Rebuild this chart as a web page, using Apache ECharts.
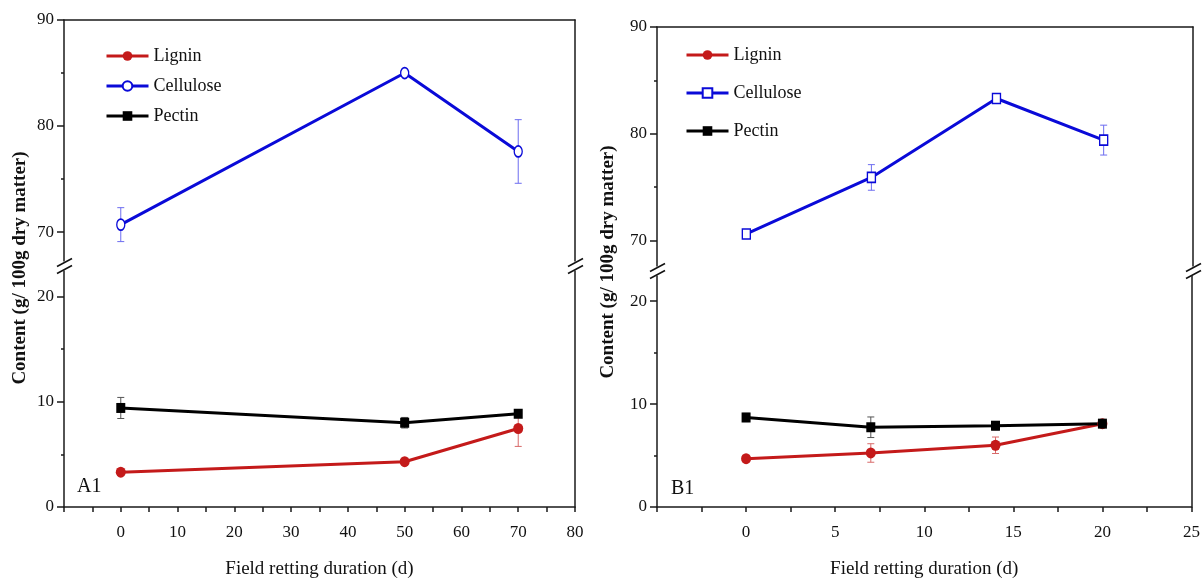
<!DOCTYPE html>
<html>
<head>
<meta charset="utf-8">
<script src="https://cdn.jsdelivr.net/npm/echarts@6/dist/echarts.min.js"></script>
<style>
  html, body { margin: 0; padding: 0; background: #fff; }
  #chart { width: 1203px; height: 580px; }
</style>
</head>
<body>
<div id="chart"></div>
<script>
// panel A1
var daysA = [0, 50, 70];
var ligninA = [3.3, 4.3, 7.45];
var ligninErrA = [0.3, 0.2, 1.7];
var celluloseA = [70.7, 85.0, 77.6];
var celluloseErrA = [1.6, 0.3, 3.0];
var pectinA = [9.4, 8.0, 8.85];
var pectinErrA = [1.0, 0.5, 0.3];

// panel B1
var daysB = [0, 7, 14, 20];
var ligninB = [4.7, 5.25, 6.0, 8.1];
var ligninErrB = [0.3, 0.9, 0.8, 0.2];
var celluloseB = [70.6, 75.9, 83.3, 79.4];
var celluloseErrB = [0.3, 1.2, 0.4, 1.4];
var pectinB = [8.7, 7.75, 7.9, 8.1];
var pectinErrB = [0.4, 1.0, 0.4, 0.3];

// tick labels
var upperMajor = [70, 80, 90];
var upperMinor = [75, 85];
var lowerMajor = [0, 10, 20];
var lowerMinor = [5, 15];

var FONT = 'Liberation Serif';
var AXIS = '#1a1a1a';
var BLUE = '#0a0ad8';
var RED = '#c41a1a';
var BLACK = '#000';

var chart = echarts.init(document.getElementById('chart'));

function pairs(xs, ys) {
  return xs.map(function (x, i) { return [x, ys[i]]; });
}
function triples(xs, ys, es) {
  return xs.map(function (x, i) { return [x, ys[i], es[i]]; });
}

// y axes for one grid: labelled left axis, minor-tick axis, plain right line
function yAxesFor(grid, min, max, major, minor) {
  return [{
    type: 'value', gridIndex: grid, min: min, max: max, position: 'left',
    axisLine: { show: true, onZero: false, lineStyle: { color: AXIS, width: 1.5 } },
    axisTick: { show: true, length: 7, customValues: major, lineStyle: { color: AXIS, width: 1.5 } },
    axisLabel: { customValues: major, margin: 10, color: '#111', fontFamily: FONT, fontSize: 17 },
    splitLine: { show: false }
  }, {
    type: 'value', gridIndex: grid, min: min, max: max, position: 'left',
    axisLine: { show: false, onZero: false },
    axisTick: { show: true, length: 3, customValues: minor, lineStyle: { color: AXIS, width: 1.5 } },
    axisLabel: { show: false },
    splitLine: { show: false }
  }, {
    type: 'value', gridIndex: grid, min: min, max: max, position: 'right',
    axisLine: { show: true, onZero: false, lineStyle: { color: AXIS, width: 1.5 } },
    axisTick: { show: false }, axisLabel: { show: false },
    splitLine: { show: false }
  }];
}

function topAxis(grid, min, max) {
  return {
    type: 'value', gridIndex: grid, min: min, max: max, position: 'top',
    axisLine: { show: true, onZero: false, lineStyle: { color: AXIS, width: 1.5 } },
    axisTick: { show: false }, axisLabel: { show: false }, splitLine: { show: false }
  };
}

function bottomAxis(grid, min, max, step, labelStep) {
  return {
    type: 'value', gridIndex: grid, min: min, max: max, interval: step, position: 'bottom',
    name: 'Field retting duration (d)', nameLocation: 'middle', nameGap: 53,
    nameTextStyle: { color: '#111', fontFamily: FONT, fontSize: 19 },
    axisLine: { show: true, onZero: false, lineStyle: { color: AXIS, width: 1.5 } },
    axisTick: { show: true, length: 5, lineStyle: { color: AXIS, width: 1.5 } },
    axisLabel: {
      interval: 0, margin: 17, color: '#111', fontFamily: FONT, fontSize: 17,
      formatter: function (v) { return (v >= 0 && Math.abs(v % labelStep) < 1e-6) ? String(v) : ''; }
    },
    splitLine: { show: false }
  };
}

function errorSeries(name, xi, yi, data, color) {
  return {
    name: name, type: 'custom', xAxisIndex: xi, yAxisIndex: yi, z: 1,
    encode: { x: 0, y: 1 },
    data: data,
    renderItem: function (params, api) {
      var x = api.value(0), y = api.value(1), e = api.value(2);
      var hi = api.coord([x, y + e]);
      var lo = api.coord([x, y - e]);
      var w = 3.5;
      var st = { stroke: color, lineWidth: 1 };
      return {
        type: 'group',
        children: [
          { type: 'line', shape: { x1: hi[0], y1: hi[1], x2: lo[0], y2: lo[1] }, style: st },
          { type: 'line', shape: { x1: hi[0] - w, y1: hi[1], x2: hi[0] + w, y2: hi[1] }, style: st },
          { type: 'line', shape: { x1: lo[0] - w, y1: lo[1], x2: lo[0] + w, y2: lo[1] }, style: st }
        ]
      };
    }
  };
}

function lineSeries(name, xi, yi, data, color, symbol, size, hollow) {
  return {
    name: name, type: 'line', xAxisIndex: xi, yAxisIndex: yi, z: 3,
    data: data,
    symbol: symbol, symbolSize: size, showAllSymbol: true,
    lineStyle: { color: color, width: 3 },
    itemStyle: hollow ? { color: '#fff', borderColor: color, borderWidth: 1.5 } : { color: color, borderWidth: 0 }
  };
}

function breakMark(x, y) {
  var st = { stroke: '#111', lineWidth: 1.5 };
  return {
    type: 'group',
    children: [
      { type: 'rect', shape: { x: x - 3, y: y - 3, width: 6, height: 6 }, style: { fill: '#fff' } },
      { type: 'line', shape: { x1: x - 7, y1: y - 3.5 + 4, x2: x + 8, y2: y - 3.5 - 4 }, style: st },
      { type: 'line', shape: { x1: x - 7, y1: y + 3.5 + 4, x2: x + 8, y2: y + 3.5 - 4 }, style: st }
    ]
  };
}

var legendBase = {
  orient: 'vertical', itemWidth: 42, itemHeight: 12, padding: 0,
  lineStyle: { width: 3 },
  textStyle: { color: '#111', fontFamily: FONT, fontSize: 18 },
  formatter: function (name) { return name.split(' ')[0]; }
};

chart.setOption({
  animation: false,
  backgroundColor: '#fff',
  grid: [
    { left: 64, width: 511, top: 20, height: 241 },
    { left: 64, width: 511, top: 271, height: 241 },
    { left: 657, width: 536, top: 27, height: 239 },
    { left: 657, width: 536, top: 276, height: 238 }
  ],
  legend: [
    Object.assign({}, legendBase, { left: 105, top: 47, itemGap: 12, data: ['Lignin', 'Cellulose', 'Pectin'] }),
    Object.assign({}, legendBase, { left: 685, top: 46, itemGap: 20, data: ['Lignin B1', 'Cellulose B1', 'Pectin B1'] })
  ],
  xAxis: [
    topAxis(0, -10, 80),
    bottomAxis(1, -10, 80, 5, 10),
    topAxis(2, -5, 25),
    bottomAxis(3, -5, 25, 2.5, 5)
  ],
  yAxis: [].concat(
    yAxesFor(0, 67.27, 90, upperMajor, upperMinor),
    yAxesFor(1, 0, 22.4, lowerMajor, lowerMinor),
    yAxesFor(2, 67.6, 90, upperMajor, upperMinor),
    yAxesFor(3, 0, 22.45, lowerMajor, lowerMinor)
  ),
  series: [
    errorSeries('errCelA', 0, 0, triples(daysA, celluloseA, celluloseErrA), '#6d6df0'),
    errorSeries('errLigA', 1, 3, triples(daysA, ligninA, ligninErrA), '#d86a6a'),
    errorSeries('errPecA', 1, 3, triples(daysA, pectinA, pectinErrA), '#555'),
    lineSeries('Lignin', 1, 3, pairs(daysA, ligninA), RED, 'circle', [10, 11], false),
    lineSeries('Cellulose', 0, 0, pairs(daysA, celluloseA), BLUE, 'circle', [8, 11], true),
    lineSeries('Pectin', 1, 3, pairs(daysA, pectinA), BLACK, 'rect', [9, 10], false),

    errorSeries('errCelB', 2, 6, triples(daysB, celluloseB, celluloseErrB), '#6d6df0'),
    errorSeries('errLigB', 3, 9, triples(daysB, ligninB, ligninErrB), '#d86a6a'),
    errorSeries('errPecB', 3, 9, triples(daysB, pectinB, pectinErrB), '#555'),
    lineSeries('Lignin B1', 3, 9, pairs(daysB, ligninB), RED, 'circle', [10, 11], false),
    lineSeries('Cellulose B1', 2, 6, pairs(daysB, celluloseB), BLUE, 'rect', [8, 10], true),
    lineSeries('Pectin B1', 3, 9, pairs(daysB, pectinB), BLACK, 'rect', [9, 10], false)
  ],
  graphic: [
    {
      type: 'text', x: 20, y: 268, rotation: Math.PI / 2,
      style: { text: 'Content (g/ 100g dry matter)', font: 'bold 19px "Liberation Serif"', fill: '#111', align: 'center', verticalAlign: 'middle' }
    },
    {
      type: 'text', x: 608, y: 262, rotation: Math.PI / 2,
      style: { text: 'Content (g/ 100g dry matter)', font: 'bold 19px "Liberation Serif"', fill: '#111', align: 'center', verticalAlign: 'middle' }
    },
    { type: 'text', x: 77, y: 487, style: { text: 'A1', font: '20px "Liberation Serif"', fill: '#111', verticalAlign: 'middle' } },
    { type: 'text', x: 671, y: 489, style: { text: 'B1', font: '20px "Liberation Serif"', fill: '#111', verticalAlign: 'middle' } },
    breakMark(64, 266),
    breakMark(575, 266),
    breakMark(657, 271),
    breakMark(1193, 271)
  ]
});
</script>
</body>
</html>
